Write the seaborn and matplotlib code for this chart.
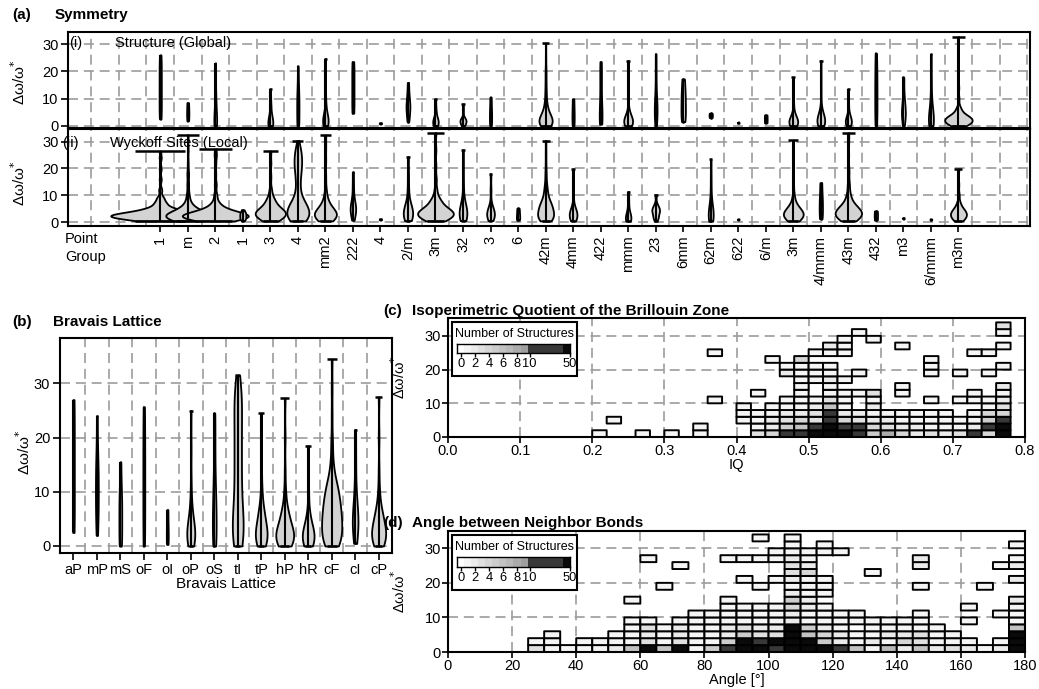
import numpy as np
import matplotlib
matplotlib.use("Agg")
import matplotlib.pyplot as plt
from matplotlib import font_manager
from matplotlib.colors import ListedColormap, BoundaryNorm
from matplotlib.patches import Rectangle
import seaborn as sns

# ------------------------------------------------------------------ data
point_groups = ["1", "m", "2", "-1", "3", "4", "mm2", "222", "-4", "2/m",
                "3m", "32", "-3", "6", "-42m", "4mm", "422", "mmm", "23", "6mm",
                "-6m2", "622", "6/m", "-3m", "4/mmm", "-43m", "432", "m-3",
                "6/mmm", "m-3m"]
point_group_labels = ["1", "m", "2", "1", "3", "4", "mm2", "222", "4", "2/m",
                      "3m", "32", "3", "6", "42m", "4mm", "422", "mmm", "23", "6mm",
                      "62m", "622", "6/m", "3m", "4/mmm", "43m", "432", "m3",
                      "6/mmm", "m3m"]

# number of structures (global) / Wyckoff sites (local) per point group
global_counts = [4, 4, 5, 0, 9, 4, 10, 4, 4, 7, 10, 11, 4, 0, 24,
                 4, 5, 16, 5, 8, 6, 3, 5, 16, 14, 11, 4, 7, 9, 50]
local_counts = [180, 80, 120, 11, 55, 40, 40, 10, 4, 17, 65, 14, 14, 6, 29,
                14, 0, 10, 14, 0, 9, 3, 0, 36, 6, 48, 6, 3, 3, 29]

# delta omega / omega* values with their multiplicities
global_values = {
    "1": ([2.5, 6, 10, 14, 18, 22, 26], None),
    "m": ([1.8, 4, 6, 8.5], None),
    "2": ([0, 2, 5, 9, 14, 19, 23], [3, 3, 2, 2, 1, 1, 1]),
    "3": ([0, 2, 4, 7, 10, 13.5], [6, 5, 3, 2, 1, 1]),
    "4": ([0, 4, 8, 12, 17, 22], [2, 2, 2, 2, 1, 1]),
    "mm2": ([0, 1.5, 3, 5, 8, 12, 17, 21, 24.7], [6, 8, 6, 3, 2, 1, 1, 1, 1]),
    "222": ([4.6, 8, 12, 16, 20, 23.6], None),
    "-4": ([0.7, 1.1], None),
    "2/m": ([1.5, 4, 7, 10, 13, 15.9], [1, 2, 3, 2, 1, 1]),
    "3m": ([0, 1.5, 3, 5, 7, 9.7], [5, 6, 4, 2, 1, 1]),
    "32": ([0, 1, 2, 3, 5, 8], [3, 5, 6, 3, 1, 1]),
    "-3": ([0, 3, 6, 10.5], None),
    "-42m": ([0, 1.5, 3, 5, 8, 12, 16, 20, 25, 30.4], [12, 15, 12, 8, 5, 3, 2, 2, 1, 1]),
    "4mm": ([0, 3, 6, 9.9], None),
    "422": ([0.6, 5, 10, 15, 20, 23.6], [2, 2, 1, 1, 1, 1]),
    "mmm": ([0, 1.5, 3, 5, 8, 12, 18, 24], [8, 10, 8, 3, 1, 1, 1, 1]),
    "23": ([0, 3, 6, 9, 14, 20, 26.5], [1, 2, 2, 2, 1, 1, 1]),
    "6mm": ([1.5, 4, 7, 10, 13, 17.2], None),
    "-6m2": ([3, 3.8, 4.6], None),
    "622": ([0.9, 1.2], None),
    "6/m": ([1, 2.5, 4], None),
    "-3m": ([0, 1.5, 3, 5, 8, 12, 17.8], [6, 8, 5, 2, 1, 1, 1]),
    "4/mmm": ([0, 1.5, 3, 5, 8, 13, 18, 24], [5, 7, 6, 3, 1, 1, 1, 1]),
    "-43m": ([0, 1.5, 3, 5, 8, 13.4], [5, 6, 5, 2, 1, 1]),
    "432": ([0, 5, 10, 15, 20, 26.7], None),
    "m-3": ([0, 3, 5, 8, 12, 17.8], [1, 2, 2, 2, 1, 1]),
    "6/mmm": ([0, 2, 4, 7, 12, 18, 26.3], [3, 3, 2, 2, 1, 1, 1]),
    "m-3m": ([0, 1, 2, 3, 4, 5.5, 7, 10, 14, 20, 26, 32.8],
             [20, 30, 35, 30, 20, 12, 6, 3, 2, 1, 1, 1]),
}

local_values = {
    "1": ([0.5, 1.5, 2.5, 3.5, 5, 7, 9, 12, 16, 20, 24, 26.5],
          [15, 40, 50, 35, 20, 10, 6, 3, 2, 2, 2, 1]),
    "m": ([0.5, 1.5, 2.5, 3.5, 5, 7, 10, 14, 18, 22, 27, 32.5],
          [8, 18, 22, 15, 9, 5, 3, 2, 2, 1, 1, 1]),
    "2": ([0.5, 1.5, 2.5, 3.5, 5, 7, 10, 14, 18, 22, 25, 27.3],
          [10, 25, 30, 20, 12, 6, 3, 2, 1, 1, 2, 1]),
    "-1": ([0.6, 1.5, 2.5, 3.5, 4.6], [1, 2, 2, 2, 1]),
    "3": ([0.5, 2, 3.5, 5, 7, 9, 12, 17, 22, 26.5], [6, 12, 14, 10, 6, 4, 2, 1, 1, 1]),
    "4": ([0.5, 2, 4, 6, 8, 11, 14, 17, 20, 23, 26, 28, 30.4],
          [10, 16, 16, 13, 9, 5, 4, 5, 7, 8, 6, 3, 1]),
    "mm2": ([0.5, 2, 3.5, 5, 7, 9, 12, 17, 23, 28, 32.5], [8, 14, 14, 9, 5, 3, 2, 1, 1, 1, 1]),
    "222": ([0.8, 3, 5, 7, 10, 14, 18.6], [1, 2, 3, 2, 1, 1, 1]),
    "-4": ([0.9, 1.3], None),
    "2/m": ([0.6, 2, 4, 6, 9, 13, 18, 24.4], [2, 4, 4, 3, 1, 1, 1, 1]),
    "3m": ([0.5, 2, 3.5, 5, 7, 9, 12, 16, 21, 27, 33.3], [10, 20, 22, 16, 10, 6, 3, 2, 1, 1, 1]),
    "32": ([0.6, 2, 4, 6, 9, 14, 20, 26.9], [2, 4, 4, 3, 1, 1, 1, 1]),
    "-3": ([0.6, 2, 3.5, 5, 7, 12, 18], [2, 4, 4, 3, 1, 1, 1]),
    "6": ([0.8, 2, 3.5, 5.2], None),
    "-42m": ([0.5, 2, 4, 6, 8, 11, 14, 18, 22, 26, 30.4], [8, 14, 13, 11, 8, 5, 3, 2, 1, 1, 1]),
    "4mm": ([0.5, 2, 3.5, 5, 8, 13, 19.8], [3, 5, 5, 3, 1, 1, 1]),
    "mmm": ([0.4, 1.5, 3, 5, 8, 11.4], [2, 3, 2, 1, 1, 1]),
    "23": ([0.5, 2, 4, 5.5, 7, 10.2], [1, 3, 4, 3, 1, 1]),
    "-6m2": ([0.4, 2, 4, 6, 8, 12, 17, 23.4], [3, 3, 3, 2, 1, 1, 1, 1]),
    "622": ([0.9, 1.2], None),
    "-3m": ([0.5, 2, 3.5, 5, 7, 10, 14, 19, 25, 30.6], [8, 16, 16, 11, 6, 3, 1, 1, 1, 1]),
    "4/mmm": ([1.3, 4, 7, 10, 14.7], None),
    "-43m": ([0.5, 2, 3.5, 5, 7, 10, 14, 19, 25, 30, 33.3], [8, 16, 18, 14, 9, 5, 3, 2, 1, 1, 1]),
    "432": ([0.8, 2.5, 4.2], None),
    "m-3": ([1.3, 1.7], None),
    "6/mmm": ([0.8, 1.2], None),
    "m-3m": ([0.5, 2, 3.5, 5, 7, 10, 14, 19.8], [6, 12, 12, 8, 4, 2, 1, 1]),
}

bravais_lattices = ["aP", "mP", "mS", "oF", "oI", "oP", "oS",
                    "tI", "tP", "hP", "hR", "cF", "cI", "cP"]
bravais_counts = [4, 6, 6, 4, 4, 17, 8, 23, 25, 38, 25, 43, 12, 30]
bravais_values = {
    "aP": ([2.5, 7, 12, 17, 22, 27], None),
    "mP": ([2, 6, 10, 14, 18, 24], [1, 2, 2, 2, 1, 1]),
    "mS": ([0, 3, 6, 9, 12, 15.5], [2, 2, 2, 2, 1, 1]),
    "oF": ([0, 5, 10, 15, 20, 25.7], None),
    "oI": ([0.3, 2, 4, 6.7], None),
    "oP": ([0, 1.5, 3, 5, 8, 12, 18, 25], [4, 6, 6, 4, 2, 1, 1, 1]),
    "oS": ([0, 3, 6, 10, 15, 20, 24.5], [2, 2, 2, 2, 1, 1, 1]),
    "tI": ([0, 3, 6, 10, 14, 18, 22, 26, 29, 31.5], [5, 5, 5, 4, 4, 4, 4, 4, 3, 1]),
    "tP": ([0, 1.5, 3, 5, 7, 10, 14, 19, 24.5], [6, 8, 8, 6, 4, 2, 1, 1, 1]),
    "hP": ([0, 1.5, 3, 5, 7, 10, 14, 20, 27.3], [8, 12, 10, 7, 4, 2, 1, 1, 1]),
    "hR": ([0, 1.5, 3, 5, 7, 10, 14, 18.5], [5, 7, 6, 3, 1, 1, 1, 1]),
    "cF": ([0, 2, 4, 6, 8, 10, 12, 15, 19, 24, 29, 34.5],
           [10, 12, 12, 11, 10, 8, 6, 3, 2, 1, 1, 1]),
    "cI": ([0.5, 2, 4, 6, 9, 13, 17, 21.5], [1, 2, 3, 3, 2, 1, 1, 1]),
    "cP": ([0, 1.5, 3, 5, 7, 10, 14, 20, 27.5], [6, 9, 9, 7, 4, 2, 1, 1, 1]),
}

# 2-D histograms: number of structures per cell, top row first.
# '.' empty, digits = count, 'D' = 10-49 structures, 'B' = 50 or more
iq_bin_edges = np.arange(0.20, 0.7801, 0.02)
angle_bin_edges = np.arange(0, 181, 5)
dw_bin_edges = np.arange(0, 35, 2)

iq_counts = [
    "..... ..... ..... ..... ..... ...3",
    "..... ..... ..... ...1. ..... ...1",
    "..... ..... ..... ..1.1 ..... ....",
    "..... ..... ..... .21.. .1... ...1",
    "..... ...1. ..... 111.. ..... .11.",
    "..... ..... ..1.4 ..... ...1. ....",
    "..... ..... ...11 11... ...1. ...1",
    "..... ..... ...21 11.1. ...1. 1.1.",
    "..... ..... ....1 121.. ..... ....",
    "..... ..... ....1 .1... .1... ...2",
    "..... ..... .1..1 .1113 .1... .1.1",
    "..... ...1. ...11 131.1 ...1. 1112",
    "..... ..... 1.111 261.2 ..... ..13",
    "..... ..... 11122 3D221 11111 .144",
    ".1... ..... 11234 3D432 21111 115D",
    "..... ..1.. .1256 DBDD4 32211 12DB",
    "1..1. 1.1.. .34DD BBBD5 84232 3D4B",
]

angle_counts = [
    "..... ..... ..... ....1 .1... ..... ..... .",
    "..... ..... ..... ..... .1.1. ..... ..... 1",
    "..... ..... ..... ..... 11111 ..... ..... .",
    "..... ..... ..1.. ..111 121.. ....2 ..... 1",
    "..... ..... ....1 ..... .32.. ....2 ....1 2",
    "..... ..... ..... ..... .34.. .1... ..... .",
    "..... ..... ..... ...1. 1211. ..... ..... 2",
    "..... ..... ...1. ....1 .111. ....1 ...1. .",
    "..... ..... ..... ..... .211. ..... ..... .",
    "..... ..... .1... ..1.. .52.. ..... ..... 2",
    "..... ..... ..... ..111 1421. ..... ..1.. 1",
    "..... ..... ..... 11111 12111 1...1 ....1 1",
    "..... ..... .11.1 11111 12111 11111 ..1.. 1",
    "..... ..... .1312 11232 2B521 .1111 1.... 6",
    "..... .1... 11212 11253 3B642 11223 11... B",
    "..... 11.11 11313 115BD BBB52 12143 111.1 B",
    "..... 31111 26B6B 15DBB DBBBD 61726 23212 B",
]

# ------------------------------------------------------------------ style
sns.set_theme(style="ticks", rc={
    "axes.edgecolor": "black", "axes.linewidth": 1.5,
    "xtick.color": "black", "ytick.color": "black",
    "xtick.major.width": 1.2, "ytick.major.width": 1.2,
    "xtick.major.size": 4, "ytick.major.size": 4,
    "xtick.labelsize": 10.5, "ytick.labelsize": 10.5,
    "text.color": "black", "axes.labelcolor": "black",
})
installed = {f.name for f in font_manager.fontManager.ttflist}
BASE = [f for f in ["Liberation Sans", "DejaVu Sans"] if f in installed]
NARROW = [f for f in ["Liberation Sans Narrow", "Liberation Sans", "DejaVu Sans"] if f in installed]
plt.rcParams["font.family"] = BASE

GRID = "#9c9c9c"
VIOLIN_FILL = "#d3d3d3"
DW_LABEL = "Δω/ω$^{*}$"
STRUCTURES_PER_UNIT_WIDTH = 50.0

light_greys = [str(v) for v in (1.0, 0.96, 0.92, 0.88, 0.84, 0.80, 0.76, 0.72, 0.67, 0.62)]
dark_grey, black = "0.22", "0.04"
cell_cmap = ListedColormap(light_greys[1:] + [dark_grey, black])
cell_norm = BoundaryNorm(list(np.arange(0.5, 10, 1.0)) + [49.5, 1e4], cell_cmap.N)
CELL_CODES = {".": 0, "D": 20, "B": 60}

W, H = 1039, 689
fig = plt.figure(figsize=(W / 100, H / 100), dpi=100)


def place(left, top, right, bottom):
    return fig.add_axes([left / W, 1 - bottom / H, (right - left) / W, (bottom - top) / H])


def ftext(x, y, s, **kw):
    fig.text(x / W, 1 - y / H, s, **kw)


def dashed_grid(ax, xs, ys):
    kw = dict(color=GRID, linewidth=1.2, dashes=(6, 3.5), zorder=0.5)
    for x in xs:
        ax.axvline(x, **kw)
    for y in ys:
        ax.axhline(y, **kw)


def draw_violins(ax, names, values, counts):
    for pos, (name, n) in enumerate(zip(names, counts)):
        if name not in values or n == 0:
            continue
        vals, mult = values[name]
        y = np.repeat(np.asarray(vals, float), 1 if mult is None else mult)
        width = n / STRUCTURES_PER_UNIT_WIDTH
        sns.violinplot(x=np.full(y.size, float(pos)), y=y, orient="x", native_scale=True,
                       width=width, density_norm="width", cut=0, inner=None,
                       bw_adjust=0.7, color=VIOLIN_FILL, saturation=1,
                       linecolor="black", linewidth=1.3, ax=ax)
        lo, hi = y.min(), y.max()
        ax.vlines(pos, lo, hi, colors="black", linewidth=1.5, zorder=3)
        ax.hlines([lo, hi], pos - width / 4, pos + width / 4, colors="black",
                  linewidth=1.8, zorder=3)
    ax.set_xlabel("")
    ax.set_ylabel("")


def decode(rows):
    grid = [[CELL_CODES[c] if c in CELL_CODES else int(c) for c in r.replace(" ", "")]
            for r in rows[::-1]]
    return np.array(grid, float)


def count_legend(ax):
    ax.add_patch(Rectangle((0.007, 0.513), 0.216, 0.452, transform=ax.transAxes,
                           facecolor="white", edgecolor="black", linewidth=1.5, zorder=4))
    ax.text(0.012, 0.868, "Number of Structures", transform=ax.transAxes, ha="left",
            va="center", fontsize=9.0, family=NARROW, zorder=6)
    cax = ax.inset_axes([0.016, 0.705, 0.195, 0.08])
    cax.set_zorder(6)
    edges = list(range(11)) + [15, 16]
    cax.pcolormesh(edges, [0, 1], np.arange(12)[None, :],
                   cmap=ListedColormap(light_greys + [dark_grey, black]), vmin=-0.5, vmax=11.5)
    cax.set_xlim(0, 16)
    cax.set_ylim(0, 1)
    cax.set_yticks([])
    cax.set_xticks([0.5, 2.5, 4.5, 6.5, 8.5, 10.3, 16])
    cax.set_xticklabels(["0", "2", "4", "6", "8", "10", "50"], family=NARROW, fontsize=9.3)
    cax.tick_params(axis="x", length=3, width=1, pad=0.5)
    for sp in cax.spines.values():
        sp.set_linewidth(1.0)


def heat_panel(ax, x_edges, rows, xlim, ylim, xticks, xticklabels, xgrid, xlabel):
    dashed_grid(ax, xgrid, [10, 20, 30])
    counts = decode(rows)
    ax.pcolor(x_edges, dw_bin_edges, np.ma.masked_less(counts, 1), cmap=cell_cmap,
              norm=cell_norm, edgecolors="black", linewidth=1.4, zorder=2)
    ax.set_xlim(*xlim)
    ax.set_ylim(*ylim)
    ax.set_xticks(xticks)
    ax.set_xticklabels(xticklabels, family=NARROW, fontsize=10.5)
    ax.set_yticks([0, 10, 20, 30])
    ax.set_yticklabels(["0", "10", "20", "30"], family=NARROW, fontsize=10.5)
    ax.tick_params(length=4, pad=1)
    ax.set_xlabel(xlabel, family=NARROW, fontsize=10.5, labelpad=0)
    count_legend(ax)


# ------------------------------------------------------------------ (a) symmetry
ax_g = place(68.3, 32.3, 1030, 128)
ax_l = place(68.3, 129, 1030, 226)
n_pg = len(point_groups)
for ax, vals, counts in ((ax_g, global_values, global_counts),
                         (ax_l, local_values, local_counts)):
    dashed_grid(ax, np.arange(-2.5, n_pg + 1.6, 1.0), [0, 10, 20, 30])
    draw_violins(ax, point_groups, vals, counts)
    ax.set_xlim(-3.34, n_pg + 1.6)
    ax.set_yticks([0, 10, 20, 30])
    ax.tick_params(axis="y", length=5, pad=2)
ax_g.set_ylim(-0.85, 34.4)
ax_l.set_ylim(-1.4, 34.7)
ax_g.set_xticks([])
ax_l.set_xticks(range(n_pg))
ax_l.set_xticklabels(point_group_labels, rotation=90, va="top", ha="center")
ax_l.tick_params(axis="x", length=4, pad=3)
ax_g.text(0.001, 0.885, "(i)", transform=ax_g.transAxes, fontsize=10.5, va="center")
ax_g.text(0.049, 0.885, "Structure (Global)", transform=ax_g.transAxes, fontsize=10.5, va="center")
ax_l.text(-0.006, 0.86, "(ii)", transform=ax_l.transAxes, fontsize=10.5, va="center")
ax_l.text(0.0435, 0.86, "Wyckoff Sites (Local)", transform=ax_l.transAxes, fontsize=10.5, va="center")
ftext(19, 82, DW_LABEL, rotation=90, ha="center", va="center", fontsize=11)
ftext(19, 183, DW_LABEL, rotation=90, ha="center", va="center", fontsize=11)
ftext(65, 248, "Point\nGroup", ha="left", va="center", fontsize=10.5, linespacing=1.3)
ftext(12, 15, "(a)", ha="left", va="center", fontsize=11, fontweight="bold")
ftext(55, 15, "Symmetry", ha="left", va="center", fontsize=11, fontweight="bold")

# ------------------------------------------------------------------ (b) Bravais lattice
ax_b = place(60, 338, 392, 553)
n_bl = len(bravais_lattices)
dashed_grid(ax_b, np.arange(0.5, n_bl - 1, 1.0), [0, 10, 20, 30])
draw_violins(ax_b, bravais_lattices, bravais_values, bravais_counts)
ax_b.set_xlim(-0.57, n_bl - 0.43)
ax_b.set_ylim(-1.3, 38.4)
ax_b.set_yticks([0, 10, 20, 30])
ax_b.set_xticks(range(n_bl))
ax_b.set_xticklabels(bravais_lattices)
ax_b.tick_params(axis="both", length=5, pad=2)
ax_b.set_xlabel("Bravais Lattice", fontsize=11, labelpad=0)
ftext(24, 452, DW_LABEL, rotation=90, ha="center", va="center", fontsize=11)
ftext(12, 322, "(b)", ha="left", va="center", fontsize=11, fontweight="bold")
ftext(53, 322, "Bravais Lattice", ha="left", va="center", fontsize=11, fontweight="bold")

# ------------------------------------------------------------------ (c) isoperimetric quotient
ax_c = place(448, 318, 1025, 437)
heat_panel(ax_c, iq_bin_edges, iq_counts, (0, 0.8), (0, 35.3),
           np.arange(0, 0.81, 0.1), [f"{v:.1f}" for v in np.arange(0, 0.81, 0.1)],
           np.arange(0.1, 0.71, 0.1), "IQ")
ftext(399, 377, DW_LABEL, rotation=90, ha="center", va="center", fontsize=10.5, family=NARROW)
ftext(383, 311, "(c)", ha="left", va="center", fontsize=11, fontweight="bold")
ftext(412, 311, "Isoperimetric Quotient of the Brillouin Zone", ha="left", va="center",
      fontsize=11, fontweight="bold")

# ------------------------------------------------------------------ (d) bond angles
ax_d = place(448, 531, 1025, 652)
heat_panel(ax_d, angle_bin_edges, angle_counts, (0, 180), (0, 35),
           np.arange(0, 181, 20), [str(v) for v in range(0, 181, 20)],
           np.arange(20, 161, 20), "Angle [°]")
ftext(399, 591, DW_LABEL, rotation=90, ha="center", va="center", fontsize=10.5, family=NARROW)
ftext(383, 523, "(d)", ha="left", va="center", fontsize=11, fontweight="bold")
ftext(412, 523, "Angle between Neighbor Bonds", ha="left", va="center",
      fontsize=11, fontweight="bold")

fig.savefig("out.png", dpi=100)
